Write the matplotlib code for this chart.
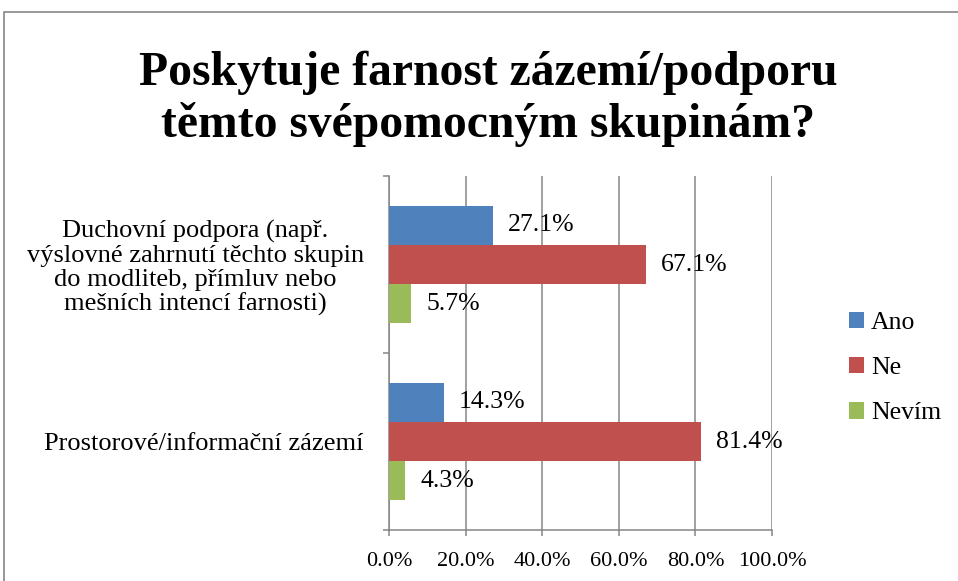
import matplotlib.pyplot as plt
from matplotlib.patches import Rectangle
import numpy as np

plt.rcParams['font.family'] = ['Liberation Serif', 'DejaVu Serif']

categories = ["Duchovní podpora (např.\nvýslovné zahrnutí těchto skupin\ndo modliteb, přímluv nebo\nmešních intencí farnosti)",
              "Prostorové/informační zázemí"]
series = ["Ano", "Ne", "Nevím"]
ano = [0.271, 0.143]
ne = [0.671, 0.814]
nevim = [0.057, 0.043]
colors = ["#4F81BD", "#C0504D", "#9BBB59"]
title = "Poskytuje farnost zázemí/podporu\ntěmto svépomocným skupinám?"

grid_col = "#868686"

fig = plt.figure(figsize=(9.58, 5.81), dpi=100)
ax = fig.add_axes([389/958, 1-530/581, 383/958, 354/581])

# outer chart border (cut off at right and bottom in the reference)
fig.patches.append(Rectangle((4/958, -0.1), 1.2, 1.1 - 12/581,
                             transform=fig.transFigure, fill=False,
                             edgecolor=grid_col, lw=1.2))

y = np.arange(len(categories))
h = 0.222
offsets = [-h, 0, h]
for vals, off, col, name in zip([ano, ne, nevim], offsets, colors, series):
    bars = ax.barh(y + off, vals, height=h, color=col, label=name, zorder=3)
    for b, v in zip(bars, vals):
        ax.annotate(f"{v*100:.1f}%", (v, b.get_y() + h/2), xytext=(11, 0),
                    textcoords="offset points", va="center", ha="left",
                    fontsize=18.5, zorder=4)

ax.set_xlim(0, 1)
ax.set_ylim(1.5, -0.5)
ax.set_xticks(np.arange(0, 1.01, 0.2))
ax.set_xticklabels([f"{t*100:.1f}%" for t in np.arange(0, 1.01, 0.2)], fontsize=16)
ax.set_yticks([-0.5, 0.5, 1.5])
ax.set_yticklabels([])
ax.set_yticks(y, minor=True)
ax.set_yticklabels(categories, minor=True, fontsize=19, ha="right",
                   multialignment="center", linespacing=1.1)
ax.tick_params(axis="y", which="minor", length=0, pad=18)
ax.tick_params(axis="both", which="major", length=4.5, color=grid_col, width=1.1)
ax.tick_params(axis="x", pad=11.5)

ax.grid(axis="x", color=grid_col, lw=1.1, zorder=0)
for s in ["top", "right"]:
    ax.spines[s].set_visible(False)
for s in ["left", "bottom"]:
    ax.spines[s].set_color(grid_col)
    ax.spines[s].set_linewidth(1.1)

fig.text(488/958, 1-99/581, title, ha="center", va="center", fontsize=34.3,
         fontweight="bold", linespacing=1.2)

fig.legend(loc="center left", bbox_to_anchor=(849/958, 1-368/581), frameon=False,
           fontsize=18.5, handlelength=0.6, handleheight=0.6, handletextpad=0.25,
           labelspacing=0.9, borderpad=0, borderaxespad=0)

fig.savefig("out.png", dpi=100)
